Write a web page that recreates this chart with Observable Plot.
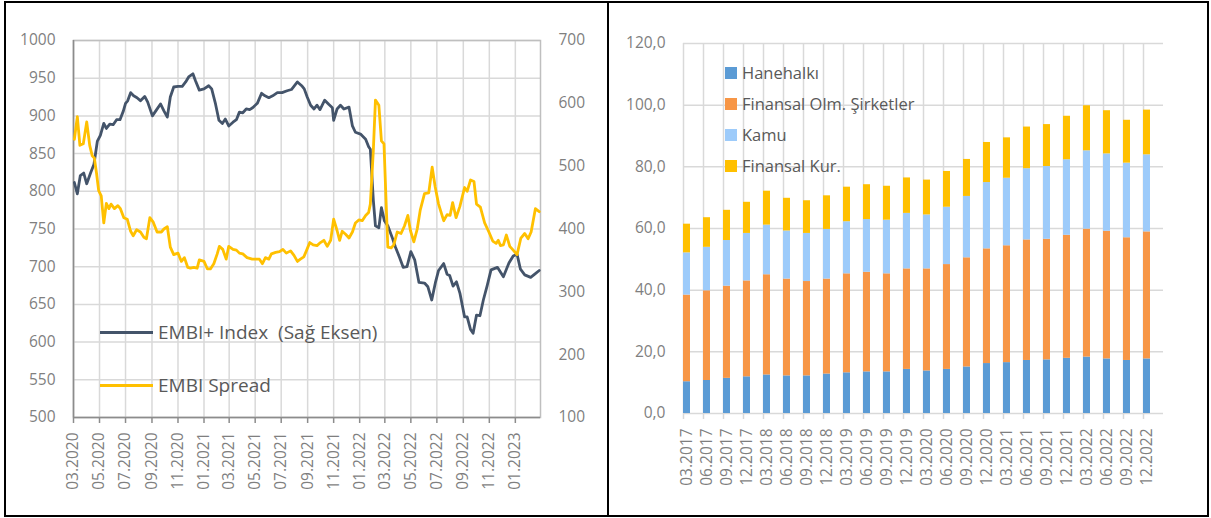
<!DOCTYPE html>
<html>
<head>
<meta charset="utf-8">
<script src="https://cdn.jsdelivr.net/npm/d3@7"></script>
<script src="https://cdn.jsdelivr.net/npm/@observablehq/plot@0.6"></script>
<style>
  html, body { margin: 0; padding: 0; background: #fff; }
  #page { position: relative; width: 1211px; height: 518px; overflow: hidden; font-family: "Open Sans", sans-serif; background: #fff; }
  .panel { position: absolute; top: 0; }
  .panel svg { display: block; }
  .border { position: absolute; left: 4px; top: 1px; width: 1205px; height: 516px; border: 2px solid #000; box-sizing: border-box; pointer-events: none; }
  .divider { position: absolute; left: 607px; top: 1px; width: 2px; height: 516px; background: #000; }
  .item { position: absolute; display: flex; align-items: center; white-space: pre; color: #595959; }
  .line-swatch { width: 53px; height: 3px; margin-right: 5px; }
  .box-swatch { width: 12px; height: 12px; margin-right: 5px; }
</style>
</head>
<body>
<div id="page">
  <div class="panel" id="left" style="left:0"></div>
  <div class="panel" id="right" style="left:610px"></div>
  <div id="legends"></div>
  <div class="border"></div>
  <div class="divider"></div>
</div>
<script>
// EMBI+ Index (right axis), weekly readings
const embiIndex = [
  ["2020-03-03",474],["2020-03-10",456],["2020-03-17",485],["2020-03-25",489],["2020-04-01",472],["2020-04-10",489],
  ["2020-04-18",503],["2020-04-26",540],["2020-05-03",549],["2020-05-11",568],["2020-05-17",560],["2020-05-25",567],
  ["2020-06-02",566],["2020-06-10",574],["2020-06-18",574],["2020-06-26",588],["2020-07-01",600],["2020-07-06",604],
  ["2020-07-13",617],["2020-07-20",612],["2020-07-28",609],["2020-08-05",604],["2020-08-15",611],["2020-08-22",602],
  ["2020-09-02",580],["2020-09-12",590],["2020-09-21",599],["2020-09-29",588],["2020-10-07",578],["2020-10-14",610],
  ["2020-10-22",626],["2020-11-01",627],["2020-11-11",627],["2020-11-19",634],["2020-11-26",642],["2020-12-06",647],
  ["2020-12-12",636],["2020-12-21",621],["2021-01-01",623],["2021-01-12",628],["2021-01-19",623],["2021-01-28",599],
  ["2021-02-05",573],["2021-02-13",568],["2021-02-20",575],["2021-02-28",564],["2021-03-10",570],["2021-03-18",574],
  ["2021-03-25",586],["2021-04-02",585],["2021-04-10",591],["2021-04-18",590],["2021-04-25",593],["2021-05-06",600],
  ["2021-05-16",616],["2021-05-24",612],["2021-06-02",609],["2021-06-11",612],["2021-06-22",617],["2021-07-03",617],
  ["2021-07-15",620],["2021-07-25",622],["2021-08-08",634],["2021-08-18",628],["2021-08-24",623],["2021-08-31",610],
  ["2021-09-08",597],["2021-09-16",591],["2021-09-23",597],["2021-09-30",590],["2021-10-11",605],["2021-10-21",598],
  ["2021-10-29",593],["2021-11-01",573],["2021-11-09",591],["2021-11-17",597],["2021-11-25",591],["2021-12-07",594],
  ["2021-12-15",564],["2021-12-22",554],["2022-01-03",551],["2022-01-15",543],["2022-01-22",531],["2022-01-26",527],
  ["2022-02-02",446],["2022-02-07",405],["2022-02-15",402],["2022-02-21",434],["2022-02-28",413],["2022-03-08",405],
  ["2022-03-18",387],["2022-03-26",371],["2022-04-05",354],["2022-04-13",339],["2022-04-22",340],["2022-05-01",364],
  ["2022-05-10",351],["2022-05-20",315],["2022-06-02",314],["2022-06-10",308],["2022-06-19",287],["2022-06-28",316],
  ["2022-07-05",334],["2022-07-17",345],["2022-07-25",328],["2022-07-31",326],["2022-08-08",309],["2022-08-16",316],
  ["2022-08-24",298],["2022-09-04",260],["2022-09-10",260],["2022-09-18",240],["2022-09-24",234],["2022-10-02",263],
  ["2022-10-10",262],["2022-10-18",287],["2022-10-27",310],["2022-11-05",335],["2022-11-20",339],["2022-12-04",324],
  ["2022-12-17",346],["2022-12-27",357],["2023-01-05",360],["2023-01-13",336],["2023-01-23",327],["2023-02-06",323],
  ["2023-02-17",329],["2023-02-26",334]
];

// EMBI Spread (left axis), weekly readings
const embiSpread = [
  ["2020-03-03",869],["2020-03-10",899],["2020-03-16",861],["2020-03-24",863],["2020-04-01",892],["2020-04-08",861],
  ["2020-04-14",847],["2020-04-19",844],["2020-04-24",824],["2020-04-29",801],["2020-05-05",794],["2020-05-11",758],
  ["2020-05-17",784],["2020-05-23",777],["2020-05-28",783],["2020-06-05",777],["2020-06-13",781],["2020-06-19",777],
  ["2020-06-27",765],["2020-07-05",763],["2020-07-13",747],["2020-07-19",741],["2020-07-27",749],["2020-08-05",746],
  ["2020-08-13",739],["2020-08-19",737],["2020-08-27",765],["2020-09-04",759],["2020-09-13",746],["2020-09-23",746],
  ["2020-09-29",750],["2020-10-07",753],["2020-10-14",726],["2020-10-22",716],["2020-11-01",718],["2020-11-09",707],
  ["2020-11-16",712],["2020-11-24",699],["2020-11-30",698],["2020-12-08",699],["2020-12-16",698],["2020-12-21",709],
  ["2021-01-01",707],["2021-01-09",697],["2021-01-16",697],["2021-01-24",704],["2021-02-01",717],["2021-02-06",727],
  ["2021-02-14",723],["2021-02-22",710],["2021-02-28",727],["2021-03-10",723],["2021-03-18",722],["2021-03-25",718],
  ["2021-04-02",717],["2021-04-12",712],["2021-04-24",710],["2021-05-03",710],["2021-05-11",710],["2021-05-18",704],
  ["2021-05-25",712],["2021-06-02",710],["2021-06-08",717],["2021-06-18",719],["2021-06-27",720],["2021-07-05",723],
  ["2021-07-13",718],["2021-07-23",721],["2021-07-31",715],["2021-08-08",707],["2021-08-15",710],["2021-08-23",713],
  ["2021-08-29",721],["2021-09-06",732],["2021-09-14",729],["2021-09-23",728],["2021-10-01",732],["2021-10-09",735],
  ["2021-10-17",727],["2021-10-25",735],["2021-11-01",763],["2021-11-09",748],["2021-11-15",735],["2021-11-21",747],
  ["2021-11-29",743],["2021-12-07",738],["2021-12-15",746],["2021-12-22",758],["2021-12-30",762],["2022-01-07",761],
  ["2022-01-15",768],["2022-01-22",772],["2022-01-26",783],["2022-02-02",854],["2022-02-07",921],["2022-02-15",914],
  ["2022-02-21",867],["2022-02-27",863],["2022-03-05",770],["2022-03-08",726],["2022-03-16",725],["2022-03-22",729],
  ["2022-03-30",746],["2022-04-08",744],["2022-04-16",754],["2022-04-24",768],["2022-04-30",748],["2022-05-08",733],
  ["2022-05-16",750],["2022-05-23",775],["2022-06-02",797],["2022-06-12",798],["2022-06-20",832],["2022-06-27",806],
  ["2022-07-05",783],["2022-07-17",761],["2022-07-25",769],["2022-08-01",768],["2022-08-07",785],["2022-08-15",765],
  ["2022-08-24",780],["2022-09-04",805],["2022-09-10",800],["2022-09-18",815],["2022-09-26",813],["2022-10-02",783],
  ["2022-10-11",779],["2022-10-21",758],["2022-10-31",746],["2022-11-09",734],["2022-11-17",731],["2022-11-22",735],
  ["2022-11-27",728],["2022-12-04",729],["2022-12-11",742],["2022-12-19",727],["2022-12-27",722],["2023-01-05",716],
  ["2023-01-14",738],["2023-01-23",744],["2023-01-31",737],["2023-02-07",746],["2023-02-17",777],["2023-02-26",773]
];

const leftTicks = [500, 550, 600, 650, 700, 750, 800, 850, 900, 950, 1000];
const rightTicks = [100, 200, 300, 400, 500, 600, 700];
const monthTicks = ["2020-03-01","2020-05-01","2020-07-01","2020-09-01","2020-11-01","2021-01-01","2021-03-01",
  "2021-05-01","2021-07-01","2021-09-01","2021-11-01","2022-01-01","2022-03-01","2022-05-01","2022-07-01",
  "2022-09-01","2022-11-01","2023-01-01"];
const timeDomain = ["2020-03-01", "2023-03-01"];

// Quarterly stacked series
const quarters = ["03.2017","06.2017","09.2017","12.2017","03.2018","06.2018","09.2018","12.2018",
  "03.2019","06.2019","09.2019","12.2019","03.2020","06.2020","09.2020","12.2020",
  "03.2021","06.2021","09.2021","12.2021","03.2022","06.2022","09.2022","12.2022"];
const hanehalki   = [10.3,10.7,11.4,11.9,12.5,12.2,12.2,12.8,13.2,13.5,13.5,14.3,13.8,14.3,15.1,16.2,16.5,17.2,17.4,17.9,18.3,17.7,17.2,17.7];
const finansalOlm = [28.1,29.1,29.9,31.1,32.5,31.4,30.6,30.8,32.1,32.3,31.8,32.6,33.1,34.0,35.4,37.2,37.9,39.1,39.1,39.9,41.5,41.4,39.8,41.2];
const kamu        = [13.7,14.1,14.8,15.4,16.1,15.6,15.6,16.1,16.9,17.1,17.4,18.0,17.5,18.6,19.9,21.5,21.9,23.1,23.6,24.5,25.4,25.1,24.2,25.0];
const finansalKur = [ 9.3, 9.6, 9.8,10.1,11.0,10.6,10.6,10.9,11.2,11.3,11.0,11.5,11.3,11.6,12.0,13.0,13.1,13.5,13.6,14.1,14.6,14.0,13.9,14.5];
const seriesNames = ["Hanehalkı", "Finansal Olm. Şirketler", "Kamu", "Finansal Kur."];
const seriesColors = ["#5B9BD5", "#F79646", "#9DCBFA", "#FFC000"];
const barTicks = [0, 20, 40, 60, 80, 100, 120];

const lineNames = ["EMBI+ Index  (Sağ Eksen)", "EMBI Spread"];
const lineColors = ["#44546A", "#FFC000"];

const grid = "#d9d9d9";
const axisGray = "#8c8c8c";
const textGray = "#7f7f7f";
const font = "'Open Sans', sans-serif";

// ---------- left panel: dual-axis lines ----------
const rightToLeft = d3.scaleLinear([100, 700], [500, 1000]);
const parse = s => new Date(s);

const leftChart = Plot.plot({
  width: 607,
  height: 518,
  marginLeft: 73,
  marginRight: 67,
  marginTop: 40,
  marginBottom: 101,
  x: {type: "utc", domain: timeDomain.map(parse)},
  y: {domain: [500, 1000]},
  style: {fontFamily: font, fontSize: "15.5px", color: textGray, background: "transparent"},
  marks: [
    Plot.gridY(leftTicks, {stroke: grid, strokeOpacity: 1, strokeWidth: 1.5}),
    Plot.gridX(monthTicks.map(parse), {stroke: grid, strokeOpacity: 1, strokeWidth: 1.5}),
    Plot.frame({stroke: "#bfbfbf", strokeWidth: 1.5}),
    Plot.ruleX([parse(timeDomain[0])], {stroke: axisGray, strokeWidth: 1.5}),
    Plot.ruleY([500], {stroke: axisGray, strokeWidth: 1.5}),
    Plot.axisY(leftTicks, {anchor: "left", tickFormat: d => String(d), tickSize: 0, tickPadding: 18, label: null, fill: textGray}),
    Plot.axisY(rightTicks, {anchor: "right", y: rightToLeft, tickFormat: d => String(d), tickSize: 0, tickPadding: 18, label: null, fill: textGray}),
    Plot.axisX(monthTicks.map(parse), {
      tickFormat: d3.utcFormat("%m.%Y"), tickRotate: -90, tickSize: 6, tickPadding: 9,
      stroke: axisGray, strokeWidth: 1.5, label: null, fill: textGray
    }),
    Plot.line(embiIndex, {x: d => parse(d[0]), y: d => rightToLeft(d[1]), stroke: lineColors[0], strokeWidth: 2.8}),
    Plot.line(embiSpread, {x: d => parse(d[0]), y: d => d[1], stroke: lineColors[1], strokeWidth: 2.8})
  ]
});
document.getElementById("left").append(leftChart);

// ---------- right panel: stacked quarterly bars ----------
const seriesValues = [hanehalki, finansalOlm, kamu, finansalKur];
const barData = seriesNames.flatMap((s, k) => quarters.map((q, i) => ({q, s, v: seriesValues[k][i]})));

const rightChart = Plot.plot({
  width: 601,
  height: 518,
  marginLeft: 73,
  marginRight: 48,
  marginTop: 43,
  marginBottom: 105,
  x: {domain: quarters, paddingInner: 0.66, paddingOuter: 0, align: 0},
  y: {domain: [0, 120]},
  color: {domain: seriesNames, range: seriesColors},
  style: {fontFamily: font, fontSize: "15.5px", color: textGray, background: "transparent"},
  marks: [
    Plot.gridY(barTicks, {stroke: grid, strokeOpacity: 1, strokeWidth: 1.5}),
    Plot.ruleX(quarters, {x: d => d, dx: -3.5, stroke: grid, strokeWidth: 1.5, insetBottom: -6}),
    Plot.barY(barData, {x: "q", y: "v", fill: "s"}),
    Plot.axisY(barTicks, {
      tickFormat: d => d.toFixed(1).replace(".", ","), tickSize: 0, tickPadding: 18, label: null, fill: textGray
    }),
    Plot.axisX({tickRotate: -90, tickSize: 0, tickPadding: 15, label: null, fill: textGray})
  ]
});
document.getElementById("right").append(rightChart);

// ---------- legends ----------
const legends = document.getElementById("legends");
lineNames.forEach((name, i) => {
  const item = document.createElement("div");
  item.className = "item";
  item.style.left = "100px";
  item.style.top = (320 + i * 53) + "px";
  item.style.fontSize = "19px";
  item.style.lineHeight = "24px";
  const sw = document.createElement("span");
  sw.className = "line-swatch";
  sw.style.background = lineColors[i];
  const tx = document.createElement("span");
  tx.textContent = name;
  item.append(sw, tx);
  legends.append(item);
});
seriesNames.forEach((name, i) => {
  const item = document.createElement("div");
  item.className = "item";
  item.style.left = "725px";
  item.style.top = (62 + i * 31) + "px";
  item.style.fontSize = "16.5px";
  item.style.lineHeight = "22px";
  const sw = document.createElement("span");
  sw.className = "box-swatch";
  sw.style.background = seriesColors[i];
  const tx = document.createElement("span");
  tx.textContent = name;
  item.append(sw, tx);
  legends.append(item);
});
</script>
</body>
</html>
